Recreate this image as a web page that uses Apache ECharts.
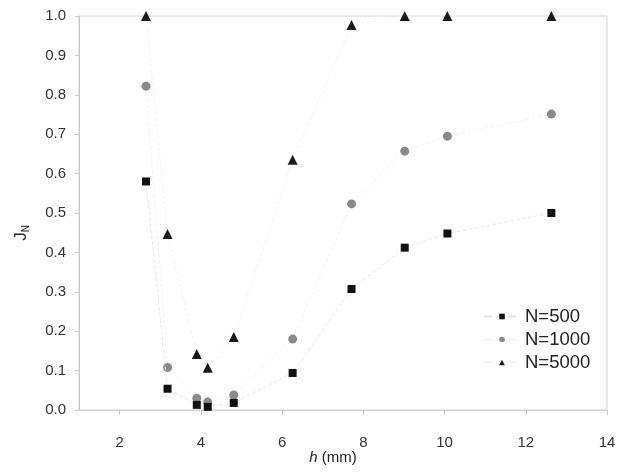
<!DOCTYPE html>
<html>
<head>
<meta charset="utf-8">
<script src="https://cdn.jsdelivr.net/npm/echarts@6/dist/echarts.min.js"></script>
<style>
  html, body { margin: 0; padding: 0; background: #fff; }
  #main { width: 621px; height: 472px; }
</style>
</head>
<body>
<div id="main"></div>
<script>
// h (mm) at which each series was measured
var hValues = [2.65, 3.18, 3.9, 4.17, 4.81, 6.26, 7.71, 9.02, 10.07, 12.63];
var jN500 = [0.58, 0.054, 0.013, 0.008, 0.018, 0.094, 0.307, 0.412, 0.448, 0.50];
var jN1000 = [0.822, 0.108, 0.03, 0.02, 0.038, 0.18, 0.523, 0.657, 0.695, 0.751];
var jN5000 = [1.0, 0.447, 0.142, 0.107, 0.185, 0.635, 0.977, 1.0, 1.0, 1.0];
var xTicks = [2, 4, 6, 8, 10, 12, 14];
var seriesNames = ["N=500", "N=1000", "N=5000"];

function pairs(ys) {
  return hValues.map(function(h, i) {
    return [h, ys[i]];
  });
}

var myChart = echarts.init(document.getElementById("main"));
var font = "Liberation Sans, Arial, sans-serif";
var option = {
  animation: false,
  textStyle: { fontFamily: font },
  grid: {
    left: 79,
    right: 14,
    top: 16,
    bottom: 62,
    outerBoundsMode: "none",
    containLabel: false,
    show: true,
    borderColor: "#d2d2d2",
    borderWidth: 1
  },
  legend: {
    orient: "vertical",
    left: 478,
    top: 302,
    itemWidth: 36,
    itemHeight: 7,
    itemGap: 4,
    selectedMode: false,
    textStyle: { color: "#222", fontSize: 18.5, fontFamily: font },
    data: seriesNames
  },
  xAxis: {
    type: "value",
    min: 1,
    max: 14,
    name: "{i|h} (mm)",
    nameLocation: "middle",
    nameGap: 40,
    nameMoveOverlap: false,
    nameTextStyle: {
      color: "#222",
      fontSize: 15,
      padding: [0, 20, 0, 0],
      rich: { i: { fontStyle: "italic", fontSize: 15, color: "#222" } }
    },
    axisLine: { lineStyle: { color: "#d2d2d2" } },
    axisTick: { show: true, length: 5, customValues: xTicks, lineStyle: { color: "#c8c8c8" } },
    axisLabel: { customValues: xTicks, color: "#333", fontSize: 15, margin: 25 },
    splitLine: { show: false }
  },
  yAxis: {
    type: "value",
    min: 0,
    max: 1,
    interval: 0.1,
    name: "J{sub|N}",
    nameLocation: "middle",
    nameRotate: 90,
    nameGap: 48,
    nameTextStyle: {
      color: "#222",
      fontSize: 17,
      padding: [0, 40, 0, 0],
      rich: { sub: { fontSize: 10, color: "#222", padding: [10, 0, 0, 0] } }
    },
    axisLine: { show: true, lineStyle: { color: "#c8c8c8" } },
    axisTick: { show: true, length: 4, lineStyle: { color: "#c8c8c8" } },
    axisLabel: {
      color: "#333",
      fontSize: 15,
      margin: 13,
      formatter: function(v) { return v.toFixed(1); }
    },
    splitLine: { show: false }
  },
  series: [
    {
      name: "N=500",
      type: "line",
      data: pairs(jN500),
      symbol: "rect",
      symbolSize: 8,
      itemStyle: { color: "#111" },
      lineStyle: { color: "#e6e6e6", width: 1, type: "dashed" },
      clip: false,
      z: 3
    },
    {
      name: "N=1000",
      type: "line",
      data: pairs(jN1000),
      symbol: "circle",
      symbolSize: 9,
      itemStyle: { color: "#8a8a8a" },
      lineStyle: { color: "#f2f2f2", width: 1, type: "dashed" },
      clip: false,
      z: 2
    },
    {
      name: "N=5000",
      type: "line",
      data: pairs(jN5000),
      symbol: "triangle",
      symbolSize: 10,
      itemStyle: { color: "#1a1a1a" },
      lineStyle: { color: "#f2f2f2", width: 1, type: "dashed" },
      clip: false,
      z: 4
    }
  ]
};
myChart.setOption(option);
</script>
</body>
</html>
